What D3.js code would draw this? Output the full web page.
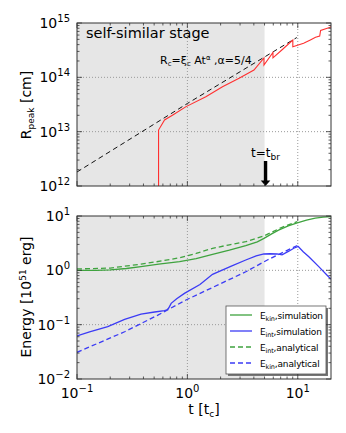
<!DOCTYPE html>
<html><head><meta charset="utf-8">
<script src="https://cdn.jsdelivr.net/npm/d3@7"></script>
<style>
html,body{margin:0;padding:0;background:#fff;}
svg{display:block;font-family:"DejaVu Sans",sans-serif;}
</style></head>
<body><svg id="c" width="346" height="433"></svg>
<script>
// ---------- data ----------
const tBreak = 5;
const xDomain = [0.1, 20];
const rDomain = [1e12, 1e15];
const eDomain = [1e-2, 1e1];
const xTickExps = [-1, 0, 1];
const rTickExps = [12, 13, 14, 15];
const eTickExps = [-2, -1, 0, 1];

// top panel: simulation peak radius (red)
const tPeak = [0.548, 0.548, 0.621, 0.738, 0.973, 1.47, 2.08, 2.94, 4.01, 4.94, 4.94, 5.96, 5.96, 7.17, 9.02, 9.02, 11.3, 13.0, 14.5, 15.8, 16.1, 19.4, 20];
const rPeak = [8e11, 1.07e13, 1.64e13, 2.03e13, 2.89e13, 4.4e13, 6.7e13, 9.6e13, 1.36e14, 2.27e14, 1.69e14, 2.86e14, 2.28e14, 3.18e14, 4.87e14, 3.66e14, 4.23e14, 4.87e14, 5.46e14, 5.76e14, 7.28e14, 8.3e14, 8.5e14];
// top panel: analytical self-similar radius (black dashed)
const tSelf = [0.1, 1.0, 9.8];
const rSelf = [1.81e12, 3.3e13, 5.4e14];

// bottom panel
const tEkinSim = [0.1, 0.15, 0.2, 0.28, 0.38, 0.55, 0.85, 1.2, 1.69, 2.4, 3.38, 4.3, 4.94, 5.8, 6.7, 8.2, 9.9, 12, 14.4, 17, 20];
const eEkinSim = [1.0, 1.0, 1.02, 1.08, 1.17, 1.3, 1.44, 1.65, 1.97, 2.35, 2.84, 3.35, 3.88, 4.7, 5.5, 6.6, 7.5, 8.4, 9.1, 9.5, 9.7];
const tEintSim = [0.1, 0.13, 0.19, 0.27, 0.38, 0.505, 0.62, 0.655, 0.675, 0.713, 0.8, 0.94, 1.3, 1.69, 2.5, 3.38, 4.2, 4.94, 5.6, 6.5, 7.2, 8.3, 9.2, 10.1, 11.2, 12.6, 15.5, 19, 20];
const eEintSim = [0.062, 0.074, 0.092, 0.125, 0.157, 0.171, 0.181, 0.188, 0.2, 0.247, 0.3, 0.377, 0.55, 0.845, 1.2, 1.55, 1.85, 2.0, 2.02, 2.0, 1.93, 2.25, 2.55, 2.75, 2.2, 1.78, 1.17, 0.76, 0.69];
const tEintAna = [0.1, 0.2, 0.38, 0.6, 0.85, 1.2, 1.69, 2.4, 3.38, 4.94, 7.2, 9.9];
const eEintAna = [1.06, 1.1, 1.3, 1.5, 1.71, 2.05, 2.54, 2.95, 3.36, 4.3, 6.2, 7.85];
const tEkinAna = [0.1, 0.27, 0.54, 0.97, 3.38, 5.3, 10.2];
const eEkinAna = [0.031, 0.074, 0.15, 0.284, 0.94, 1.55, 2.95];

const legendLabels = [["E","kin",",simulation"],["E","int",",simulation"],["E","int",",analytical"],["E","kin",",analytical"]];

// ---------- drawing ----------
const svg = d3.select("#c");
const L = 77, R = 331;
const top1 = 23, bot1 = 186, top2 = 216, bot2 = 379;
const x = d3.scaleLog().domain(xDomain).range([L, R]);
const yR = d3.scaleLog().domain(rDomain).range([bot1, top1]);
const yE = d3.scaleLog().domain(eDomain).range([bot2, top2]);

const cGreen = "#3fa33f", cBlue = "#3b3bf5", cRed = "#ff3030";

function minorTicks(domain) {
  const out = [];
  const lo = Math.floor(Math.log10(domain[0])), hi = Math.ceil(Math.log10(domain[1]));
  for (let e = lo; e <= hi; e++) for (let m = 2; m <= 9; m++) {
    const v = m * Math.pow(10, e);
    if (v > domain[0] && v < domain[1]) out.push(v);
  }
  return out;
}

function panel(y, yTop, yBot, id) {
  const g = svg.append("g");
  svg.append("clipPath").attr("id", id).append("rect")
    .attr("x", L).attr("y", yTop).attr("width", R - L).attr("height", yBot - yTop);
  g.append("rect").attr("x", L).attr("y", yTop).attr("width", x(tBreak) - L).attr("height", yBot - yTop)
    .attr("fill", "#e6e6e6");
  xTickExps.forEach(e => {
    const v = Math.pow(10, e);
    if (v > xDomain[0] && v < xDomain[1])
      g.append("line").attr("x1", x(v)).attr("x2", x(v)).attr("y1", yTop).attr("y2", yBot)
        .attr("stroke", "#999").attr("stroke-width", 1).attr("stroke-dasharray", "1,2");
  });
  const dom = y.domain();
  (id === "cp1" ? rTickExps : eTickExps).forEach(e => {
    const v = Math.pow(10, e);
    if (v > dom[0] && v < dom[1])
      g.append("line").attr("x1", L).attr("x2", R).attr("y1", y(v)).attr("y2", y(v))
        .attr("stroke", "#999").attr("stroke-width", 1).attr("stroke-dasharray", "1,2");
  });
  return g;
}

function frame(y, yTop, yBot, exps) {
  const g = svg.append("g").attr("stroke", "#333").attr("stroke-width", 0.8);
  const dom = y.domain();
  xTickExps.forEach(e => {
    const xv = x(Math.pow(10, e));
    g.append("line").attr("x1", xv).attr("x2", xv).attr("y1", yBot).attr("y2", yBot - 5);
    g.append("line").attr("x1", xv).attr("x2", xv).attr("y1", yTop).attr("y2", yTop + 5);
  });
  minorTicks(xDomain).forEach(v => {
    const xv = x(v);
    g.append("line").attr("x1", xv).attr("x2", xv).attr("y1", yBot).attr("y2", yBot - 2.5);
    g.append("line").attr("x1", xv).attr("x2", xv).attr("y1", yTop).attr("y2", yTop + 2.5);
  });
  exps.forEach(e => {
    const yv = y(Math.pow(10, e));
    g.append("line").attr("x1", L).attr("x2", L + 5).attr("y1", yv).attr("y2", yv);
    g.append("line").attr("x1", R).attr("x2", R - 5).attr("y1", yv).attr("y2", yv);
  });
  minorTicks(dom).forEach(v => {
    const yv = y(v);
    g.append("line").attr("x1", L).attr("x2", L + 2.5).attr("y1", yv).attr("y2", yv);
    g.append("line").attr("x1", R).attr("x2", R - 2.5).attr("y1", yv).attr("y2", yv);
  });
  svg.append("rect").attr("x", L).attr("y", yTop).attr("width", R - L).attr("height", yBot - yTop)
    .attr("fill", "none").attr("stroke", "#333").attr("stroke-width", 1);
  exps.forEach(e => {
    const yv = y(Math.pow(10, e));
    const t = svg.append("text").attr("x", 70).attr("y", yv + 5).attr("text-anchor", "end")
      .attr("font-size", 14).attr("fill", "#000");
    t.append("tspan").text("10");
    t.append("tspan").attr("dy", -6).attr("font-size", 10).text(e < 0 ? "\u2212" + (-e) : String(e));
  });
}

function line(g, y, xs, ys, color, width, dash, clip) {
  const pts = xs.map((v, i) => [x(v), y(ys[i])]);
  const p = g.append("path").attr("d", d3.line()(pts)).attr("fill", "none")
    .attr("stroke", color).attr("stroke-width", width).attr("clip-path", "url(#" + clip + ")");
  if (dash) p.attr("stroke-dasharray", dash);
}

// ----- top panel -----
const g1 = panel(yR, top1, bot1, "cp1");
line(g1, yR, tSelf, rSelf, "#111", 1, "5,3.5", "cp1");
line(g1, yR, tPeak, rPeak, cRed, 1.1, null, "cp1");
svg.append("text").attr("x", 86).attr("y", 38).attr("font-size", 14.5).text("self-similar stage");
{
  const t = svg.append("text").attr("x", 160).attr("y", 64).attr("font-size", 11);
  t.append("tspan").text("R");
  t.append("tspan").attr("dy", 2).attr("font-size", 7).text("c");
  t.append("tspan").attr("dy", -2).text("=\u03be");
  t.append("tspan").attr("dy", 2).attr("font-size", 7).text("c");
  t.append("tspan").attr("dy", -2).text(" At");
  t.append("tspan").attr("dy", -4).attr("font-size", 7).text("\u03b1");
  t.append("tspan").attr("dy", 4).text(" ,\u03b1=5/4");
}
{
  const ax = x(tBreak) + 1;
  svg.append("rect").attr("x", ax - 1.7).attr("y", 161).attr("width", 3.4).attr("height", 20).attr("fill", "#000");
  svg.append("path").attr("d", `M${ax - 4.8},180.5 L${ax + 4.8},180.5 L${ax},186 Z`).attr("fill", "#000");
  const t = svg.append("text").attr("x", ax).attr("y", 157).attr("text-anchor", "middle").attr("font-size", 12);
  t.append("tspan").text("t=t");
  t.append("tspan").attr("dy", 3).attr("font-size", 9).text("br");
}
frame(yR, top1, bot1, rTickExps);
{
  const t = svg.append("text").attr("transform", "translate(31,105) rotate(-90)").attr("text-anchor", "middle").attr("font-size", 14);
  t.append("tspan").text("R");
  t.append("tspan").attr("dy", 3).attr("font-size", 9).text("peak");
  t.append("tspan").attr("dy", -3).text(" [cm]");
}

// ----- bottom panel -----
const g2 = panel(yE, top2, bot2, "cp2");
line(g2, yE, tEintAna, eEintAna, cGreen, 1.3, "5,3", "cp2");
line(g2, yE, tEkinAna, eEkinAna, cBlue, 1.3, "5,3", "cp2");
line(g2, yE, tEkinSim, eEkinSim, cGreen, 1.3, null, "cp2");
line(g2, yE, tEintSim, eEintSim, cBlue, 1.3, null, "cp2");

{
  const lx = 226, ly = 306, lw = 100, lh = 68;
  svg.append("rect").attr("x", lx + 2).attr("y", ly + 2).attr("width", lw).attr("height", lh).attr("fill", "#777");
  svg.append("rect").attr("x", lx).attr("y", ly).attr("width", lw).attr("height", lh).attr("fill", "#fff")
    .attr("stroke", "#555").attr("stroke-width", 0.8);
  const cols = [cGreen, cBlue, cGreen, cBlue];
  const dashes = [null, null, "5,3", "5,3"];
  legendLabels.forEach((lab, i) => {
    const yy = ly + 9 + i * 16;
    const l = svg.append("line").attr("x1", lx + 4).attr("x2", lx + 26).attr("y1", yy).attr("y2", yy)
      .attr("stroke", cols[i]).attr("stroke-width", 1.3);
    if (dashes[i]) l.attr("stroke-dasharray", dashes[i]);
    const t = svg.append("text").attr("x", lx + 34).attr("y", yy + 3.5).attr("font-size", 9)
      .attr("letter-spacing", -0.15);
    t.append("tspan").text(lab[0]);
    t.append("tspan").attr("dy", 2).attr("font-size", 6.5).text(lab[1]);
    t.append("tspan").attr("dy", -2).text(lab[2]);
  });
}
frame(yE, top2, bot2, eTickExps);
xTickExps.forEach(e => {
  const t = svg.append("text").attr("x", x(Math.pow(10, e))).attr("y", 398).attr("text-anchor", "middle").attr("font-size", 14);
  t.append("tspan").text("10");
  t.append("tspan").attr("dy", -6).attr("font-size", 10).text(e < 0 ? "\u2212" + (-e) : String(e));
});
{
  const t = svg.append("text").attr("x", 204).attr("y", 414).attr("text-anchor", "middle").attr("font-size", 14);
  t.append("tspan").text("t [t");
  t.append("tspan").attr("dy", 3).attr("font-size", 9).text("c");
  t.append("tspan").attr("dy", -3).text("]");
}
{
  const t = svg.append("text").attr("transform", "translate(31,297) rotate(-90)").attr("text-anchor", "middle").attr("font-size", 14);
  t.append("tspan").text("Energy [10");
  t.append("tspan").attr("dy", -5).attr("font-size", 9).text("51");
  t.append("tspan").attr("dy", 5).text(" erg]");
}
</script></body></html>
